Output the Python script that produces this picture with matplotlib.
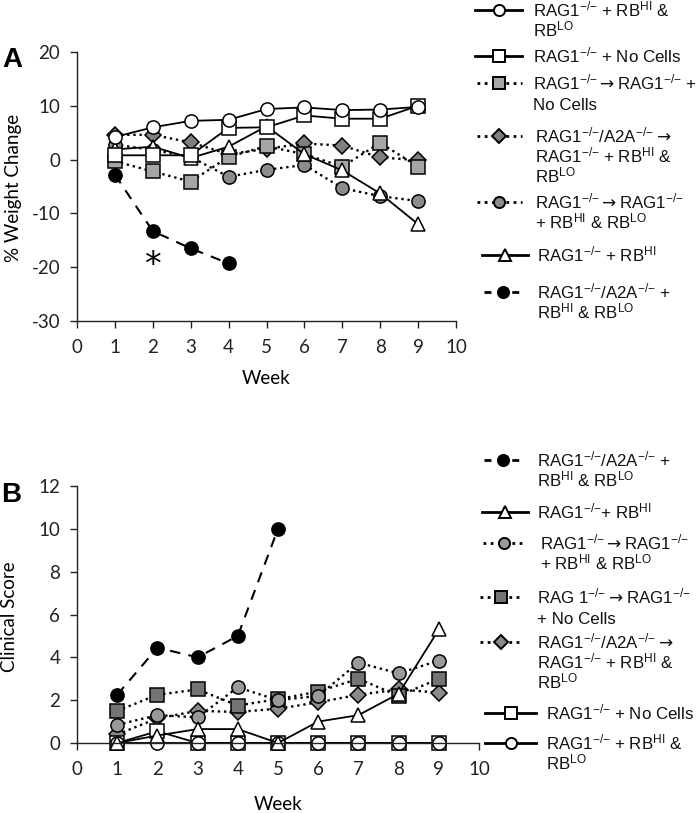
import matplotlib
matplotlib.use("Agg")
import matplotlib.pyplot as plt
from matplotlib.lines import Line2D

plt.rcParams['font.family'] = ['Lato', 'DejaVu Sans']
plt.rcParams['axes.unicode_minus'] = False
plt.rcParams['mathtext.default'] = 'regular'

# ---- panel A: % weight change ----
weeks = [1, 2, 3, 4, 5, 6, 7, 8, 9]
weeks_a2a = [1, 2, 3, 4]
a_open_circle = [4.2, 6.0, 7.2, 7.4, 9.4, 9.7, 9.2, 9.3, 9.8]
a_open_square = [0.8, 0.8, 0.8, 5.9, 6.0, 8.2, 7.6, 7.6, 10.0]
a_gray_square = [-0.3, -2.2, -4.1, 0.5, 2.5, 1.0, -1.3, 3.1, -1.3]
a_diamond = [4.6, 4.6, 3.2, 1.0, 2.0, 3.0, 2.6, 0.4, -0.1]
a_gray_circle = [2.8, 1.8, 0.5, -3.2, -1.9, -1.0, -5.3, -6.8, -7.7]
a_triangle = [1.9, 2.4, 0.3, 2.4, 6.2, 1.0, -2.0, -6.3, -12.0]
a_black = [-2.8, -13.3, -16.5, -19.3]

# ---- panel B: clinical score ----
weeks_b_a2a = [1, 2, 3, 4, 5]
b_black = [2.25, 4.45, 4.0, 5.0, 10.0]
b_triangle = [0, 0.35, 0.65, 0.65, 0, 1.0, 1.3, 2.3, 5.3]
b_gray_circle = [0.85, 1.3, 1.2, 2.6, 2.0, 2.2, 3.75, 3.25, 3.85]
b_gray_square = [1.5, 2.25, 2.5, 1.75, 2.05, 2.4, 3.0, 2.2, 3.0]
b_diamond = [0.4, 1.15, 1.5, 1.45, 1.6, 1.9, 2.25, 2.5, 2.35]
b_open_square = [0, 0.55, 0, 0, 0, 0, 0, 0, 0]
b_open_circle = [0, 0, 0, 0, 0, 0, 0, 0, 0]

R = 'RAG1$^{{-}/{-}}$'
A2A = 'RAG1$^{{-}/{-}}$/A2A$^{{-}/{-}}$'
HI = 'RB$^{HI}$'
LO = 'RB$^{LO}$'
ARR = r'$\mathrm{\rightarrow}$'

solid = dict(ls='-', lw=1.3)
dotted = dict(ls=(0, (1, 1.6)), lw=1.7)
dashed = dict(ls=(0, (5, 4)), lw=1.5)

W, H = 700, 813
fig = plt.figure(figsize=(7, 8.13), dpi=100)
ax_a = fig.add_axes([77 / W, 1 - 321 / H, 379 / W, 269 / H])
ax_b = fig.add_axes([77 / W, 1 - 743 / H, 402 / W, 257 / H])

mk = dict(mec='black', mew=1.1, color='black')

# panel A
ax_a.plot(weeks, a_gray_circle, marker='o', mfc='#8c8c8c', ms=9.5, **mk, **dotted)
ax_a.plot(weeks, a_diamond, marker='D', mfc='#7f7f7f', ms=8.5, **mk, **dotted)
ax_a.plot(weeks, a_gray_square, marker='s', mfc='#a6a6a6', ms=9.5, **mk, **dotted)
ax_a.plot(weeks, a_triangle, marker='^', mfc='white', ms=10, **mk, **solid)
ax_a.plot(weeks, a_open_square, marker='s', mfc='white', ms=9.5, **mk, **solid)
ax_a.plot(weeks, a_open_circle, marker='o', mfc='white', ms=9.5, **mk, **solid)
ax_a.plot(weeks_a2a, a_black, marker='o', mfc='black', ms=9.5, **mk, **dashed)
ax_a.text(2, -19.6, '*', ha='center', va='center', fontsize=24, family='DejaVu Sans')

ax_a.set_xlim(0, 10)
ax_a.set_ylim(-30, 20)
ax_a.set_xticks(range(0, 11))
ax_a.set_yticks(range(-30, 21, 10))
ax_a.set_xlabel('Week', fontsize=13.5)
ax_a.set_ylabel('% Weight Change', fontsize=13.5)
ax_a.xaxis.set_label_coords(0.499, -0.182)
ax_a.yaxis.set_label_coords(-0.145, 0.494)

# panel B
ax_b.plot(weeks, b_diamond, marker='D', mfc='#8a8a8a', ms=8.5, clip_on=False, **mk, **dotted)
ax_b.plot(weeks, b_gray_square, marker='s', mfc='#747474', ms=9.5, clip_on=False, **mk, **dotted)
ax_b.plot(weeks, b_gray_circle, marker='o', mfc='#9a9a9a', ms=9.5, clip_on=False, **mk, **dotted)
ax_b.plot(weeks, b_open_square, marker='s', mfc='white', ms=9.5, clip_on=False, **mk, **solid)
ax_b.plot(weeks, b_open_circle, marker='o', mfc='white', ms=9.5, clip_on=False, **mk, **solid)
ax_b.plot(weeks, b_triangle, marker='^', mfc='white', ms=10, clip_on=False, **mk, **solid)
ax_b.plot(weeks_b_a2a, b_black, marker='o', mfc='black', ms=9.5, clip_on=False, **mk, **dashed)

ax_b.set_xlim(0, 10)
ax_b.set_ylim(0, 12)
ax_b.set_xticks(range(0, 11))
ax_b.set_yticks(range(0, 13, 2))
ax_b.set_xlabel('Week', fontsize=13.5)
ax_b.set_ylabel('Clinical Score', fontsize=13.5)
ax_b.xaxis.set_label_coords(0.5, -0.205)
ax_b.yaxis.set_label_coords(-0.147, 0.49)

for ax in (ax_a, ax_b):
    for side in ('top', 'right'):
        ax.spines[side].set_visible(False)
    for side in ('left', 'bottom'):
        ax.spines[side].set_color('#222222')
        ax.spines[side].set_linewidth(1.0)
    ax.tick_params(direction='out', length=5, width=1.0, color='#222222', labelsize=13.5, labelcolor='#222222')
    ax.tick_params(axis='x', pad=8)
    ax.tick_params(axis='y', pad=7)

fig.text(2 / W, 1 - 67 / H, 'A', fontsize=20, weight='bold', family='Liberation Sans', va='baseline')
fig.text(1 / W, 1 - 502 / H, 'B', fontsize=20, weight='bold', family='Liberation Sans', va='baseline')

# ---- hand-placed legends (key sits on first text line) ----
key_solid = dict(ls='-', lw=2.0)
key_dotted = dict(ls=(0, (1, 1.6)), lw=2.0)
key_dashed = dict(ls=(0, (2.5, 2.5)), lw=2.0)

k_open_circle = dict(marker='o', mfc='white', **key_solid)
k_open_square = dict(marker='s', mfc='white', **key_solid)
k_triangle = dict(marker='^', mfc='white', **key_solid)
k_black = dict(marker='o', mfc='black', **key_dashed)
k_gray_circle_a = dict(marker='o', mfc='#8c8c8c', **key_dotted)
k_diamond_a = dict(marker='D', mfc='#7f7f7f', **key_dotted)
k_gray_square_a = dict(marker='s', mfc='#a6a6a6', **key_dotted)
k_gray_circle_b = dict(marker='o', mfc='#9a9a9a', **key_dotted)
k_diamond_b = dict(marker='D', mfc='#8a8a8a', **key_dotted)
k_gray_square_b = dict(marker='s', mfc='#747474', **key_dotted)

legend_a = [
    (10, 475, 522, 533, k_open_circle, [f'{R} + {HI} &', LO]),
    (56, 475, 522, 533, k_open_square, [f'{R} + No Cells']),
    (83, 477, 522, 533, k_gray_square_a, [f'{R}{ARR}{R} +', 'No Cells']),
    (136, 477, 522, 535, k_diamond_a, [f'{A2A}{ARR}', f'{R} + {HI} &', LO]),
    (202, 477, 522, 535, k_gray_circle_a, [f'{R}{ARR}{R}', f'+ {HI} & {LO}']),
    (255, 482, 528, 537, k_triangle, [f'{R} + {HI}']),
    (292, 484, 522, 537, k_black, [f'{A2A} +', f'{HI} & {LO}']),
]
legend_b = [
    (460, 484, 522, 537, k_black, [f'{A2A} +', f'{HI} & {LO}']),
    (512, 482, 528, 537, k_triangle, [f'{R}+ {HI}']),
    (543, 483, 525, 540, k_gray_circle_b, [f'{R}{ARR}{R}', f'+ {HI} & {LO}']),
    (597, 480, 522, 537, k_gray_square_b, ['RAG 1$^{{-}/{-}}$' + ARR + R, '+ No Cells']),
    (642, 480, 522, 537, k_diamond_b, [f'{A2A}{ARR}', f'{R} + {HI} &', LO]),
    (713, 485, 536, 546, k_open_square, [f'{R} + No Cells']),
    (743, 485, 536, 546, k_open_circle, [f'{R} + {HI} &', LO]),
]

pitch = 20
for y0, x0, x1, xt, st, lines in legend_a + legend_b:
    yf = 1 - y0 / H
    style = dict(st)
    m = style.pop('marker')
    mfc = style.pop('mfc')
    fig.add_artist(Line2D([x0 / W, x1 / W], [yf, yf], transform=fig.transFigure,
                          color='black', **style))
    fig.add_artist(Line2D([(x0 + x1) / 2 / W], [yf], transform=fig.transFigure,
                          marker=m, mfc=mfc, mec='black', mew=1.4,
                          ms=7 if m == 'D' else 8, ls='none'))
    for i, s in enumerate(lines):
        fig.text(xt / W, 1 - (y0 + 6.5 + i * pitch) / H, s, fontsize=12.2,
                 family=['Liberation Sans', 'DejaVu Sans'], va='baseline', color='#111111')

fig.savefig('out.png', dpi=100)
